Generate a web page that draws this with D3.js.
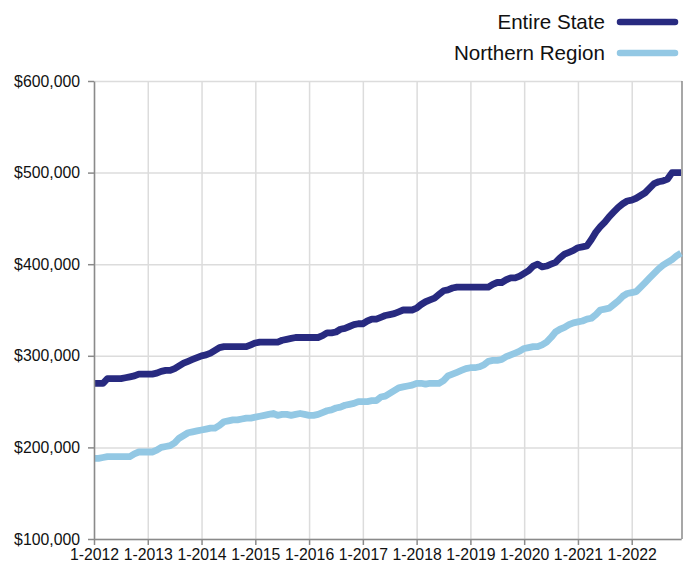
<html>
    <head>
        <script src="https://d3js.org/d3.v7.min.js"></script>
        <style>
            body { margin: 0; background: #fff; }
            text { font-family: "Liberation Sans", Arial, Helvetica, sans-serif; fill: #111; }
            .gridlines line { stroke: #dcdcdc; stroke-width: 1.5; }
            .gridlines .domain { stroke: none; }
            .axis .domain, .axis line { stroke: #8a8a8a; stroke-width: 1.5; }
            .axis text { font-size: 15.8px; }
            .legend text { font-size: 20.6px; }
        </style>
    </head>
    <body>
        <svg height="564" width="688" id="chart"></svg>

        <script>
            // monthly values, Jan 2012 .. Dec 2022, in thousands of dollars
            const entireState = [
                270,270,270,275,275,275,275,276,277,278,280,280,
                280,280,281,283,284,284,286,289,292,294,296,298,
                300,301,303,306,309,310,310,310,310,310,310,312,
                314,315,315,315,315,315,317,318,319,320,320,320,
                320,320,320,322,325,325,326,329,330,332,334,335,
                335,338,340,340,342,344,345,346,348,350,350,350,
                352,356,359,361,363,367,371,372,374,375,375,375,
                375,375,375,375,375,378,380,380,383,385,385,387,
                390,393,398,400,397,398,400,402,407,411,413,415,
                418,419,420,427,435,441,446,452,457,462,466,469,
                470,472,475,478,483,488,490,491,493,500,500,500
            ];
            const northernRegion = [
                188,188,189,190,190,190,190,190,190,193,195,195,
                195,195,197,200,201,202,205,210,213,216,217,218,
                219,220,221,221,224,228,229,230,230,231,232,232,
                233,234,235,236,237,235,236,236,235,236,237,236,
                235,235,236,238,240,241,243,244,246,247,248,250,
                250,250,251,251,255,256,259,262,265,266,267,268,
                270,270,269,270,270,270,273,278,280,282,284,286,
                287,287,288,290,294,295,295,296,299,301,303,305,
                308,309,310,310,312,315,320,326,329,331,334,336,
                337,338,340,341,345,350,351,352,356,360,365,368,
                369,370,375,380,385,390,395,399,402,405,409,412
            ];
            const seriesNames = ["Entire State", "Northern Region"];
            const seriesColors = ["#282a80", "#93c8e4"];
            const xTickLabels = ["1-2012","1-2013","1-2014","1-2015","1-2016","1-2017","1-2018","1-2019","1-2020","1-2021","1-2022"];
            const yTicks = [100000, 200000, 300000, 400000, 500000, 600000];

            const svg = d3.select("#chart");
            const width = +svg.attr("width");
            const height = +svg.attr("height");
            let margin = { "top": 81, "right": 6, "bottom": 25, "left": 94 };
            const chartWidth = width - margin.left - margin.right;
            const chartHeight = height - margin.top - margin.bottom;

            const nMonths = entireState.length;
            let xScale = d3.scaleLinear().domain([0, nMonths - 1]).range([0, chartWidth - 1]);
            let yScale = d3.scaleLinear().domain([100000, 600000]).range([chartHeight, 0]);
            const tickMonths = xTickLabels.map((d, i) => i * 12);

            // gridlines
            svg.append("g")
                .attr("class", "gridlines")
                .attr("transform", `translate(${margin.left},${margin.top})`)
                .call(d3.axisLeft(yScale).tickValues(yTicks).tickSize(-chartWidth).tickFormat(""));
            svg.append("g")
                .attr("class", "gridlines")
                .attr("transform", `translate(${margin.left},${margin.top + chartHeight})`)
                .call(d3.axisBottom(xScale).tickValues(tickMonths).tickSize(-chartHeight).tickFormat(""));

            // right border
            svg.append("line")
                .attr("x1", margin.left + chartWidth).attr("x2", margin.left + chartWidth)
                .attr("y1", margin.top).attr("y2", margin.top + chartHeight)
                .attr("stroke", "#8a8a8a").attr("stroke-width", 1.5);

            // lines
            const line = d3.line()
                .x((d, i) => xScale(i))
                .y(d => yScale(d * 1000));

            const chart = svg.append("g").attr("transform", `translate(${margin.left},${margin.top})`);
            [northernRegion, entireState].forEach((s, k) => {
                chart.append("path")
                    .datum(s)
                    .attr("d", line)
                    .attr("fill", "none")
                    .attr("stroke", k === 0 ? seriesColors[1] : seriesColors[0])
                    .attr("stroke-width", 6.8)
                    .attr("stroke-linejoin", "round");
            });

            // axes
            svg.append("g")
                .attr("class", "y axis")
                .attr("transform", `translate(${margin.left},${margin.top})`)
                .call(d3.axisLeft(yScale).tickValues(yTicks).tickSize(6).tickSizeOuter(0).tickPadding(8)
                    .tickFormat(d3.format("$,.0f")));
            svg.append("g")
                .attr("class", "x axis")
                .attr("transform", `translate(${margin.left},${margin.top + chartHeight})`)
                .call(d3.axisBottom(xScale).tickValues(tickMonths).tickSize(6).tickSizeOuter(0).tickPadding(4)
                    .tickFormat((d, i) => xTickLabels[i]));
            svg.selectAll(".x.axis text").attr("dy", "0.72em");

            // legend
            const legend = svg.append("g").attr("class", "legend");
            seriesNames.forEach((name, i) => {
                const y = 22 + i * 31;
                legend.append("text")
                    .attr("x", 605).attr("y", y).attr("dy", "0.36em")
                    .attr("text-anchor", "end")
                    .text(name);
                legend.append("line")
                    .attr("x1", 620).attr("x2", 675)
                    .attr("y1", y).attr("y2", y)
                    .attr("stroke", seriesColors[i])
                    .attr("stroke-width", 6.5)
                    .attr("stroke-linecap", "round");
            });
        </script>
    </body>
</html>
